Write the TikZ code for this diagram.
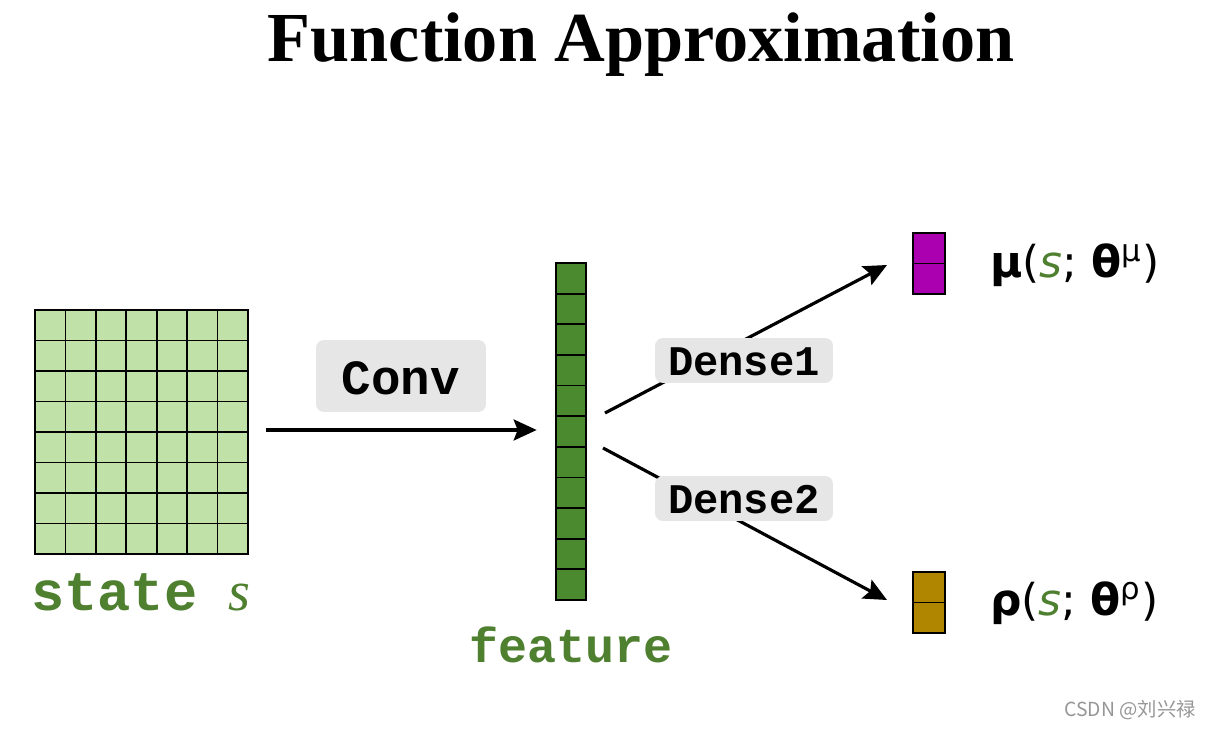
\documentclass[tikz,border=0pt]{standalone}
\usepackage{fontspec}
\setmainfont{Liberation Serif}
\newfontfamily\monof{Liberation Mono}
\newfontfamily\labf{DejaVu Sans}
\newfontfamily\cjk{Noto Sans CJK SC}
\usetikzlibrary{arrows.meta}
\definecolor{cellLight}{RGB}{192,226,168}
\definecolor{featDark}{RGB}{76,138,48}
\definecolor{txtGreen}{RGB}{78,128,48}
\definecolor{muPurple}{RGB}{170,0,176}
\definecolor{rhoGold}{RGB}{176,134,0}
\definecolor{boxGray}{RGB}{230,230,230}
\definecolor{wmGray}{RGB}{150,150,150}
\tikzset{
  conn/.style={line width=1.8pt, -{Stealth[length=0.46cm,width=0.42cm,inset=0.08cm]}},
  cellline/.style={line width=1pt, draw=black},
  graybox/.style={fill=boxGray, rounded corners=0.16cm, inner sep=0pt},
  monolabel/.style={font=\monof\bfseries, inner sep=0pt},
  mathlabel/.style={font=\labf\fontsize{25}{30}\selectfont, inner sep=0pt, anchor=west},
}
\begin{document}
\begin{tikzpicture}[x=0.02cm,y=-0.02cm]
\useasboundingbox[fill=white] (0,0) rectangle (1211,729);

% title
\node[anchor=base, inner sep=0pt, font=\bfseries\fontsize{40}{44}\selectfont] (title) at (641,62) {Function Approximation};

% state grid
\node[minimum width=4.26cm, minimum height=4.88cm, inner sep=0pt] (state) at (141.5,432) {};
\draw[cellline, fill=cellLight] (35,310) rectangle (248,554);
\foreach \i in {1,...,6} \draw[cellline] ({35+\i*213/7},310) -- ({35+\i*213/7},554);
\foreach \j in {1,...,7} \draw[cellline] (35,{310+\j*244/8}) -- (248,{310+\j*244/8});
\node[monolabel, anchor=base west, text=txtGreen, font=\monof\bfseries\fontsize{31.5}{36}\selectfont] (statetxt) at (31,610) {state};
\node[anchor=base west, inner sep=0pt, text=txtGreen, font=\itshape\fontsize{32}{36}\selectfont] (stateS) at (228,610) {s};

% feature column
\node[minimum width=0.6cm, minimum height=6.74cm, inner sep=0pt] (feat) at (571,431.5) {};
\foreach \i in {0,...,10} \draw[cellline, fill=featDark] (556,{263+\i*337/11}) rectangle (586,{263+(\i+1)*337/11});
\node[monolabel, anchor=base, text=txtGreen, font=\monof\bfseries\fontsize{27.5}{32}\selectfont] (feattxt) at (571,663) {feature};

% conv arrow
\coordinate (cs) at ([xshift=0.36cm]state.east |- 0,430);
\coordinate (ce) at ([xshift=-0.38cm]feat.west |- 0,430);
\draw[conn] (cs) -- (ce);
\node[graybox, minimum width=3.4cm, minimum height=1.44cm] (conv) at (401,376) {};
\node[monolabel, font=\monof\bfseries\fontsize{28}{32}\selectfont] (convtxt) at (401,378) {Conv};

% outputs
\node[minimum width=0.64cm, minimum height=1.22cm, inner sep=0pt] (mu) at (929,263.5) {};
\draw[cellline, fill=muPurple] (913,233) rectangle (945,263.5);
\draw[cellline, fill=muPurple] (913,263.5) rectangle (945,294);
\node[minimum width=0.64cm, minimum height=1.22cm, inner sep=0pt] (rho) at (929,602.5) {};
\draw[cellline, fill=rhoGold] (913,572) rectangle (945,602.5);
\draw[cellline, fill=rhoGold] (913,602.5) rectangle (945,633);

% dense connectors
\coordinate (d1s) at (605,413);
\coordinate (d1e) at (887,265);
\coordinate (d2s) at (603,448);
\coordinate (d2e) at (887,600);
\draw[conn] (d1s) -- (d1e);
\draw[conn] (d2s) -- (d2e);
\node[graybox, minimum width=3.56cm, minimum height=0.9cm] (dense1) at (744,360.5) {};
\node[monolabel, font=\monof\bfseries\fontsize{24}{28}\selectfont] (d1txt) at (744,362) {Dense1};
\node[graybox, minimum width=3.56cm, minimum height=0.9cm] (dense2) at (744,498.5) {};
\node[monolabel, font=\monof\bfseries\fontsize{24}{28}\selectfont] (d2txt) at (744,500) {Dense2};

% math labels
\node[mathlabel] (mulab) at (990,265) {{\bfseries μ}(\textcolor{txtGreen}{\itshape s}; {\bfseries θ}\textsuperscript{μ})};
\node[mathlabel] (rholab) at (990,603) {{\bfseries ρ}(\textcolor{txtGreen}{\itshape s}; {\bfseries θ}\textsuperscript{ρ})};

% watermark
\node[anchor=east, inner sep=0pt, text=wmGray, font=\cjk\fontsize{11}{13}\selectfont] (wm) at (1196,710) {CSDN @刘兴禄};
\end{tikzpicture}
\end{document}
